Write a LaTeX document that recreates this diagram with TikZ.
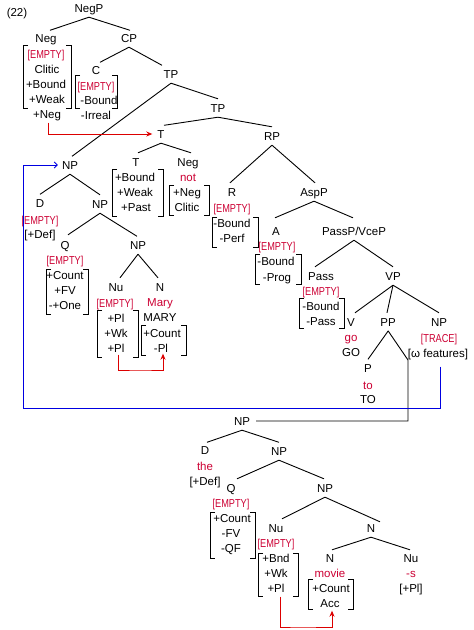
\documentclass[tikz,border=0pt]{standalone}
\usepackage{fontspec}
\setmainfont{Liberation Sans}
\usetikzlibrary{arrows.meta}
\definecolor{emp}{RGB}{204,0,51}
\definecolor{arr}{RGB}{220,0,0}
\definecolor{bl}{RGB}{0,0,225}
\newcommand\E{\scalebox{0.8}[1]{[EMPTY]}}
\newcommand\fbrk[4]{%
  \draw[brk] (#1+5,#2) -- (#1,#2) -- (#1,#4) -- (#1+5,#4);
  \draw[brk] (#3-5,#2) -- (#3,#2) -- (#3,#4) -- (#3-5,#4);}
\newcommand\edge[4]{\draw[edge] ([yshift=-4.5pt]#1.south) -- ([xshift=#3pt,yshift=#4pt]#2.north);}
\begin{document}
\begin{tikzpicture}[x=1pt,y=-1pt,
  every node/.style={inner sep=0pt,font=\fontsize{11.5}{13.8}\selectfont,text height=9pt,text depth=0pt},
  red/.style={text=emp},
  em/.style={text=emp},
  edge/.style={line width=0.9pt},
  brk/.style={line width=0.9pt},
  redarr/.style={draw=arr,line width=0.9pt,-{Stealth[length=6pt,width=5pt]}},
  bluearr/.style={draw=bl,line width=0.9pt,-{Straight Barb[length=3pt,width=6pt]}}]
\useasboundingbox (0,0) rectangle (474,630);
\node (title) at (17,12) {(22)};
% top
\node (negp) at (89,8) {NegP};
\node (neg) at (46,38) {Neg};
\node (cp) at (129,38) {CP};
\node[em] (negE) at (46,54) {\E};
\node (negF1) at (47,69) {Clitic};
\node (negF2) at (46,84) {+Bound};
\node (negF3) at (47,99) {+Weak};
\node (negF4) at (47,114) {+Neg};
\fbrk{23}{45}{71}{108}
\node (c) at (96,70) {C};
\node[em] (cE) at (96,86) {\E};
\node (cF1) at (99,100) {-Bound};
\node (cF2) at (96,115) {-Irreal};
\fbrk{75}{75}{117}{108}
\node (tp1) at (171,74) {TP};
\node (tp2) at (218,108) {TP};
\node (tU) at (161,134) {T};
\node (tL) at (136,162) {T};
\node (negT) at (188,162) {Neg};
\node (tF1) at (135,177) {+Bound};
\node (tF2) at (135,192) {+Weak};
\node (tF3) at (136,207) {+Past};
\fbrk{112}{169}{163}{216}
\node[red] (not) at (188,177) {not};
\node (nF1) at (187,192) {+Neg};
\node (nF2) at (187,207) {Clitic};
\fbrk{169}{185}{209}{215}
\node (rp) at (272,136) {RP};
\node (r) at (232,192) {R};
\node[em] (rE) at (232,208) {\E};
\node (rF1) at (232,223) {-Bound};
\node (rF2) at (232,238) {-Perf};
\fbrk{212}{217}{258}{247}
\node (aspp) at (314,192) {AspP};
\node (a) at (276,231) {A};
\node[em] (aE) at (277,246) {\E};
\node (aF1) at (276,261) {-Bound};
\node (aF2) at (277,277) {-Prog};
\fbrk{255}{254}{301}{284}
\node (passp) at (354,231) {PassP/VceP};
\node (pass) at (321,276) {Pass};
\node[em] (pE) at (321,291) {\E};
\node (pF1) at (321,306) {-Bound};
\node (pF2) at (321,321) {-Pass};
\fbrk{299}{298}{344}{328}
\node (vp) at (393,276) {VP};
\node (v) at (351,322) {V};
\node[red] (go) at (351,337) {go};
\node (GO) at (351,352) {GO};
\node (pp) at (388,322) {PP};
\node (p) at (368,368) {P};
\node[red] (to) at (368,385) {to};
\node (TO) at (368,399) {TO};
\node (npo) at (439,322) {NP};
\node[em] (trace) at (439,338) {\scalebox{0.8}[1]{[TRACE]}};
\node (feat) at (438,353) {[ω features]};
% subject NP
\node (np1) at (70,165) {NP};
\node (d1) at (40,203) {D};
\node[em] (d1E) at (40,220) {\E};
\node (d1F) at (40,234) {[+Def]};
\node (np2) at (100,204) {NP};
\node (q1) at (65,245) {Q};
\node[em] (q1E) at (65,260) {\E};
\node (q1F1) at (65,275) {+Count};
\node (q1F2) at (65,290) {+FV};
\node (q1F3) at (65,305) {-+One};
\fbrk{46}{269}{88}{314}
\node (np3) at (138,245) {NP};
\node (nu1) at (116,287) {Nu};
\node[em] (nu1E) at (115,303) {\E};
\node (nu1F1) at (116,318) {+Pl};
\node (nu1F2) at (116,333) {+Wk};
\node (nu1F3) at (116,348) {+Pl};
\fbrk{97}{310}{138}{357}
\node (n1) at (160,287) {N};
\node[red] (mary) at (160,302) {Mary};
\node (MARY) at (160,317) {MARY};
\node (n1F1) at (162,333) {+Count};
\node (n1F2) at (161,348) {-Pl};
\fbrk{141}{325}{186}{355}
% lower NP
\node (npL) at (242,421) {NP};
\node (dL) at (205,450) {D};
\node[red] (the) at (205,466) {the};
\node (dLF) at (205,481) {[+Def]};
\node (np2L) at (279,451) {NP};
\node (qL) at (231,488) {Q};
\node[em] (qLE) at (231,503) {\E};
\node (qLF1) at (232,518) {+Count};
\node (qLF2) at (231,533) {-FV};
\node (qLF3) at (231,548) {-QF};
\fbrk{210}{512}{255}{558}
\node (np3L) at (325,488) {NP};
\node (nuL) at (276,528) {Nu};
\node[em] (nuLE) at (276,543) {\E};
\node (nuLF1) at (276,558) {+Bnd};
\node (nuLF2) at (276,573) {+Wk};
\node (nuLF3) at (276,588) {+Pl};
\fbrk{258}{553}{298}{596}
\node (nL) at (371,528) {N};
\node (n2L) at (330,558) {N};
\node[red] (movie) at (330,573) {movie};
\node (n2LF1) at (331,588) {+Count};
\node (n2LF2) at (330,603) {Acc};
\fbrk{308}{579}{353}{609}
\node (nu2L) at (411,558) {Nu};
\node[red] (s) at (411,573) {-s};
\node (nu2LF) at (411,588) {[+Pl]};
% edges
\edge{negp}{neg}{4}{3}
\edge{negp}{cp}{1}{3}
\edge{cp}{c}{4}{3}
\edge{cp}{tp1}{-9}{4}
\edge{tp1}{np1}{2}{4}
\edge{tp1}{tp2}{0}{4.5}
\edge{tp2}{tU}{3}{4}
\edge{tp2}{rp}{0}{4.5}
\edge{tU}{tL}{2}{4.5}
\edge{tU}{negT}{3}{4.5}
\edge{rp}{r}{-2}{4.5}
\edge{rp}{aspp}{1}{4.5}
\edge{aspp}{a}{-1}{8.5}
\edge{aspp}{passp}{-1}{8.5}
\edge{passp}{pass}{-6}{4.5}
\edge{passp}{vp}{0}{4.5}
\edge{vp}{v}{4}{4.5}
\edge{vp}{pp}{-1}{4.5}
\edge{vp}{npo}{0}{4.5}
\edge{pp}{p}{0}{4}
\edge{np1}{d1}{0}{4}
\edge{np1}{np2}{0}{4.5}
\edge{np2}{q1}{3}{5.5}
\edge{np2}{np3}{-1}{4}
\edge{np3}{nu1}{4}{4.5}
\edge{np3}{n1}{-2}{4.5}
\edge{npL}{dL}{2}{3}
\edge{npL}{np2L}{0}{4}
\edge{np2L}{qL}{6}{4.5}
\edge{np2L}{np3L}{-1}{4.5}
\edge{np3L}{nuL}{6}{4.5}
\edge{np3L}{nL}{9}{1.5}
\edge{nL}{n2L}{2}{3.5}
\edge{nL}{nu2L}{-1}{3.5}
% PP complement link
\coordinate (ppk) at (408,360);
\draw[edge,shorten >=6pt] ([yshift=-4pt]pp.south) -- (ppk) |- (npL.east);
% movement arrows
\coordinate (m0) at (100,135);
\draw[redarr,shorten <=4pt,shorten >=5pt] ([xshift=1pt]negF4.south) |- (tU.west);
\coordinate (m1) at (140,370);
\draw[redarr,shorten >=1pt] ([xshift=2pt,yshift=-2pt]nu1F3.south) |- (m1) -| ([xshift=2pt]n1F2.south);
\coordinate (m2) at (300,627);
\draw[redarr,shorten >=0pt] ([xshift=4pt,yshift=-4pt]nuLF3.south) |- (m2) -| ([xshift=2pt,yshift=-3pt]n2LF2.south);
\coordinate (b2) at (23,408);
\draw[bluearr,shorten >=4pt] ([xshift=2pt,yshift=-9pt]feat.south) |- (b2) |- (np1.west);
\end{tikzpicture}
\end{document}
